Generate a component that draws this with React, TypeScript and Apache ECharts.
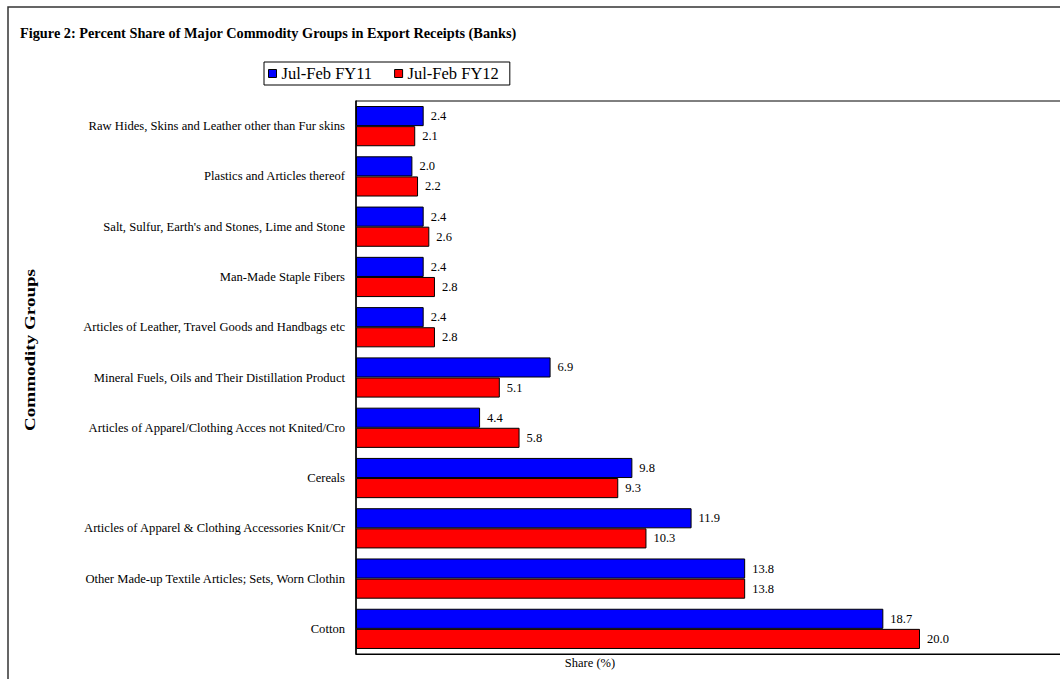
import React, { useEffect, useRef } from "react";
import * as echarts from "echarts";

const categories: string[] = [
  "Raw Hides, Skins and Leather other than Fur skins",
  "Plastics and Articles thereof",
  "Salt, Sulfur, Earth's and Stones, Lime and Stone",
  "Man-Made Staple Fibers",
  "Articles of Leather, Travel Goods and Handbags etc",
  "Mineral Fuels, Oils and Their Distillation Product",
  "Articles of Apparel/Clothing Acces not Knited/Cro",
  "Cereals",
  "Articles of Apparel & Clothing Accessories Knit/Cr",
  "Other Made-up Textile Articles; Sets, Worn Clothin",
  "Cotton",
];

const fy11: number[] = [2.4, 2.0, 2.4, 2.4, 2.4, 6.9, 4.4, 9.8, 11.9, 13.8, 18.7];
const fy12: number[] = [2.1, 2.2, 2.6, 2.8, 2.8, 5.1, 5.8, 9.3, 10.3, 13.8, 20.0];

const seriesNames: string[] = ["Jul-Feb FY11", "Jul-Feb FY12"];
const titleText = "Figure 2: Percent Share of Major Commodity Groups in Export Receipts (Banks)";
const yAxisTitle = "Commodity Groups";
const xAxisTitle = "Share (%)";

const FONT = "'Liberation Serif', 'Times New Roman', serif";

export default function App() {
  const ref = useRef<HTMLDivElement>(null);
  useEffect(() => {
    if (!ref.current) return;
    const chart = echarts.init(ref.current, undefined, { renderer: "svg" });
    const labelCfg = {
      show: true,
      position: "right" as const,
      distance: 7,
      fontFamily: FONT,
      fontSize: 12.5,
      color: "#000",
      formatter: (p: any) => Number(p.value).toFixed(1),
    };
    chart.setOption({
      animation: false,
      backgroundColor: "#fff",
      textStyle: { fontFamily: FONT },
      title: {
        text: titleText,
        left: 15,
        top: 21,
        textStyle: { fontFamily: FONT, fontSize: 14.3, fontWeight: "bold", color: "#000" },
      },
      legend: {
        data: seriesNames,
        left: 264,
        top: 62,
        padding: [3, 11, 3, 4],
        borderColor: "#000",
        borderWidth: 1,
        icon: "rect",
        itemWidth: 8,
        itemHeight: 8,
        itemGap: 22,
        itemStyle: { borderColor: "#000", borderWidth: 1 },
        textStyle: { fontFamily: FONT, fontSize: 16.5, color: "#000" },
      },
      grid: {
        left: 356,
        top: 101,
        right: 1080 - 1061,
        bottom: 700 - 654,
        show: true,
        borderColor: "#000",
        borderWidth: 1,
        containLabel: false,
      },
      xAxis: {
        type: "value",
        min: 0,
        max: 25,
        axisLine: { show: true, lineStyle: { color: "#000", width: 1 } },
        axisTick: { show: false },
        axisLabel: { show: false },
        splitLine: { show: false },
      },
      yAxis: {
        type: "category",
        data: categories,
        inverse: true,
        axisLine: { show: true, lineStyle: { color: "#000", width: 1.5 } },
        axisTick: { show: false },
        axisLabel: { fontFamily: FONT, fontSize: 12.6, color: "#000", margin: 11 },
      },
      series: [
        {
          name: seriesNames[0],
          type: "bar",
          data: fy11,
          barGap: "0%",
          barCategoryGap: "20%",
          itemStyle: { color: "#0000ff", borderColor: "#000", borderWidth: 1 },
          label: labelCfg,
        },
        {
          name: seriesNames[1],
          type: "bar",
          data: fy12,
          barGap: "0%",
          barCategoryGap: "20%",
          itemStyle: { color: "#ff0000", borderColor: "#000", borderWidth: 1 },
          label: labelCfg,
        },
      ],
      graphic: [
        {
          type: "rect",
          shape: { x: 8, y: 7, width: 1200, height: 800 },
          style: { fill: "none", stroke: "#333", lineWidth: 1.5 },
          silent: true,
        },
        {
          type: "text",
          x: 590,
          y: 663,
          style: {
            text: xAxisTitle,
            fontFamily: FONT,
            fontSize: 12.5,
            fill: "#000",
            textAlign: "center",
            textVerticalAlign: "middle",
          },
        },
        {
          type: "text",
          x: 30,
          y: 350,
          rotation: Math.PI / 2,
          scaleX: 1.36,
          style: {
            text: yAxisTitle,
            fontFamily: FONT,
            fontSize: 14,
            fontWeight: "bold",
            fill: "#000",
            textAlign: "center",
            textVerticalAlign: "middle",
          },
        },
      ],
    });
    return () => chart.dispose();
  }, []);
  return (
    <div style={{ position: "fixed", left: 0, top: 0, width: 1060, height: 679, overflow: "hidden", background: "#fff" }}>
      <div ref={ref} style={{ width: 1080, height: 700 }} />
    </div>
  );
}
